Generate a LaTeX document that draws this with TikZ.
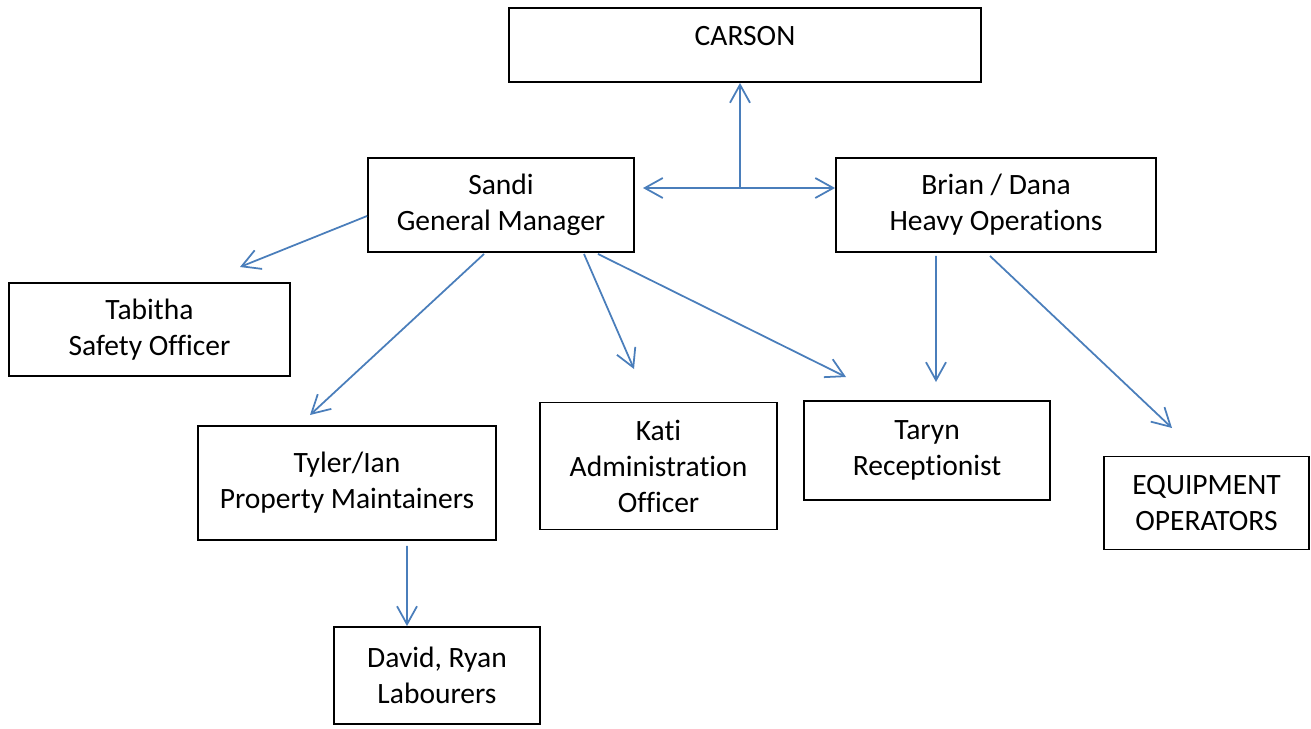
\documentclass[tikz,border=0pt]{standalone}
\usepackage{fontspec}
\setmainfont{Carlito}[Ligatures=NoCommon]
\usetikzlibrary{arrows.meta,positioning}

\begin{document}
\begin{tikzpicture}[x=0.02cm, y=-0.02cm,
  font=\fontsize{16.8}{20.5}\selectfont,
  box/.style={draw,line width=1.1pt,align=center,inner sep=2pt},
  link/.style={draw={rgb,255:red,74;green,126;blue,187},line width=1pt,
    -{Straight Barb[length=3.6mm,width=4mm]}}]
  \useasboundingbox (0,0) rectangle (1311,728);
  \node[box, minimum width=9.44cm, minimum height=1.48cm, text depth=0.35cm] (carson) at (745,45) {CARSON};
  \node[box, minimum width=5.32cm, minimum height=1.88cm] (sandi) at (501,205) {Sandi\\General Manager};
  \node[box, minimum width=6.4cm, minimum height=1.88cm] (brian) at (996,205) {Brian / Dana\\Heavy Operations};
  \node[box, minimum width=5.62cm, minimum height=1.86cm] (tabitha) at (149.5,329.5) {Tabitha\\Safety Officer};
  \node[box, minimum width=5.96cm, minimum height=2.28cm] (tyler) at (347,483) {Tyler/Ian\\Property Maintainers};
  \node[box, minimum width=4.74cm, minimum height=2.54cm] (kati) at (658.5,466) {Kati\\Administration\\Officer};
  \node[box, minimum width=4.92cm, minimum height=1.98cm] (taryn) at (927,450.5) {Taryn\\Receptionist};
  \node[box, minimum width=4.1cm, minimum height=1.86cm] (equip) at (1206.5,503) {EQUIPMENT\\OPERATORS};
  \node[box, minimum width=4.12cm, minimum height=1.94cm] (david) at (437,675.5) {David, Ryan\\Labourers};
  % free ends of the connectors
  \coordinate (hub) at (740,188);
  \coordinate (hubl) at (643,188);
  \coordinate (tabhead) at (240,267);
  \coordinate (tylhead) at (310,415);
  \coordinate (katihead) at (634,369);
  \coordinate (tarhead) at (846,377);
  \coordinate (tarhead2) at (936,382);
  \coordinate (eqhead) at (1172,428);
  \draw[link] (hub) -- (hub |- carson.south);
  \draw[link, {Straight Barb[length=3.6mm,width=4mm]}-{Straight Barb[length=3.6mm,width=4mm]}] (hubl) -- (hub -| brian.west);
  \draw[link] ([yshift=-0.22cm]sandi.west) -- (tabhead);
  \draw[link] ([xshift=-0.34cm,yshift=-0.02cm]sandi.south) -- (tylhead);
  \draw[link] ([xshift=1.66cm,yshift=-0.02cm]sandi.south) -- (katihead);
  \draw[link] ([xshift=1.94cm,yshift=-0.02cm]sandi.south) -- (tarhead);
  \draw[link] ([xshift=-1.2cm,yshift=-0.06cm]brian.south) -- (tarhead2);
  \draw[link] ([xshift=-0.12cm,yshift=-0.06cm]brian.south) -- (eqhead);
  \draw[link] ([xshift=1.2cm,yshift=-0.1cm]tyler.south) -- ([xshift=-0.6cm]david.north);
\end{tikzpicture}
\end{document}
